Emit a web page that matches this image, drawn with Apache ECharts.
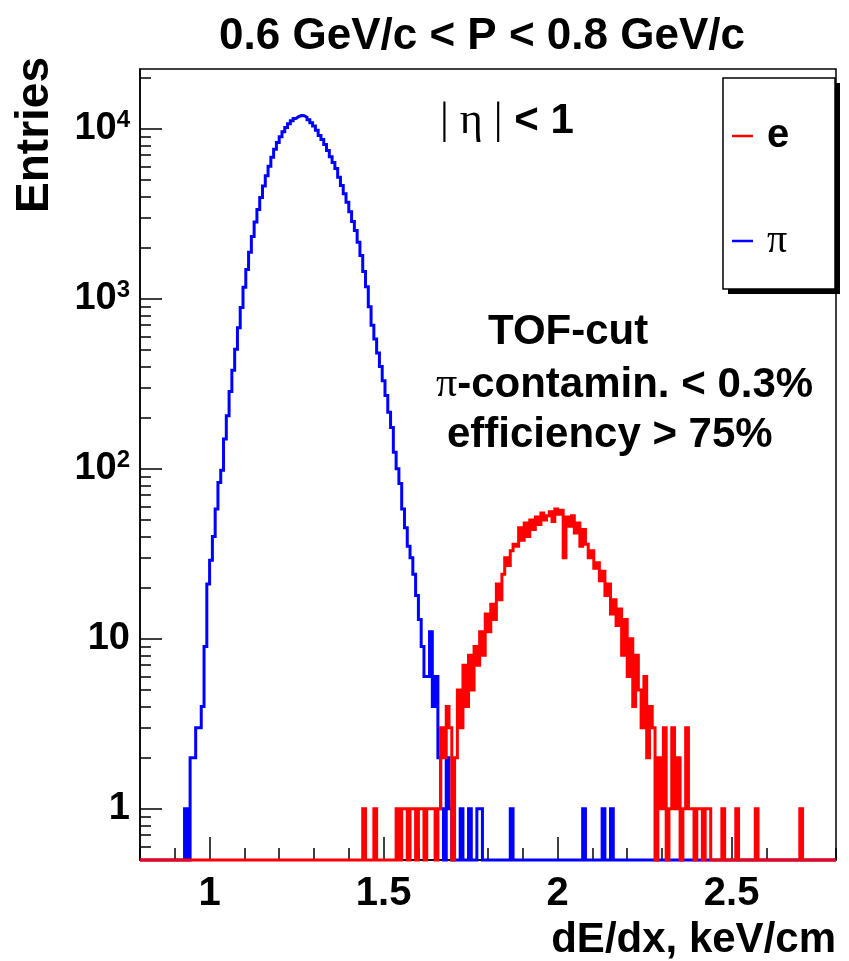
<!DOCTYPE html>
<html><head><meta charset="utf-8">
<script src="https://cdn.jsdelivr.net/npm/echarts@6/dist/echarts.min.js"></script>
<style>html,body{margin:0;padding:0;background:#fff}#c{width:849px;height:961px}</style>
</head><body><div id="c"></div>
<script>
// ---- data (histograms, bin width 0.008 in dE/dx) ----
const binWidth = 0.008;
const xMin = 0.8, xMax = 2.8;
const yMin = 0.5, yMax = 22500;

// pion counts, first bin low edge = 0.928
const piFirstEdge = 0.928;
const piCounts = [
  1,0,2,2,3,3,4,9,21,29,                              // 0.928
  40,58,83,98,150,205,285,380,505,675,                // 1.008
  890,1170,1490,1880,2330,2830,3350,3950,4620,5300,   // 1.088
  6020,6800,7580,8300,9000,9620,10200,10700,11150,11500, // 1.168
  11800,11980,11950,11700,11300,10850,10400,9800,9150,8650, // 1.248
  8100,7450,6850,6350,5850,5200,4650,4150,3700,3250,  // 1.328
  2850,2520,2150,1800,1450,1180,900,700,580,480,      // 1.408
  400,330,270,215,175,125,100,82,58,45,               // 1.488
  35,30,24,18,13,9,6,6,11,4,                          // 1.568
  6,2,1,0,2,1,0,0,0,1,                                // 1.648
  0,0,1,0,0,1,1,0,0,0,                                // 1.728
  0,0,0,0,0,0,0,1,0,0,                                // 1.808
  0,0,0,0,0,0,0,0,0,0,                                // 1.888
  0,0,0,0,0,0,0,0,0,0,                                // 1.968
  0,0,0,1,0,0,0,0,0,0,                                // 2.048
  1,0,0,1                                             // 2.128
];

// electron counts, first bin low edge = 1.440
const eFirstEdge = 1.440;
const eCounts = [
  1,0,0,0,1,0,0,0,0,0,          // 1.440
  0,0,1,0,1,1,0,1,1,0,          // 1.520
  1,1,0,1,1,1,0,1,3,2,          // 1.600
  4,3,0,2,5,3,7,4,8,5,          // 1.680
  9,7,11,8,14,11,16,13,21,17,   // 1.760
  24,30,27,33,36,35,45,38,48,40,// 1.840
  50,44,52,47,55,50,53,56,49,58,// 1.920
  54,57,30,52,46,53,42,48,35,44,// 2.000
  36,30,33,26,28,22,25,18,21,14,// 2.080
  17,12,15,8,13,6,10,4,8,5,     // 2.160
  3,6,2,4,3,0,2,1,3,0,          // 2.240
  1,3,1,2,0,1,3,1,1,0,          // 2.320
  1,1,0,1,1,0,0,0,0,1,          // 2.400
  0,0,0,0,1,0,0,0,0,0,          // 2.480
  0,1,0,0,0,0,0,0,0,0,          // 2.560
  0,0,0,0,0,0,0,1               // 2.640
];

const xMajorTicks = [1, 1.5, 2, 2.5];
const yMajorTicks = [1, 10, 100, 1000, 10000];
const yMinorTicks = [0.6,0.7,0.8,0.9, 2,3,4,5,6,7,8,9, 20,30,40,50,60,70,80,90,
  200,300,400,500,600,700,800,900, 2000,3000,4000,5000,6000,7000,8000,9000, 20000];

const seriesNames = ['e', 'π'];

// ---- build step-histogram points (bin low edges, zero bins drawn at axis floor) ----
function histData(firstEdge, counts) {
  const nBins = Math.round((xMax - xMin) / binWidth);
  const offset = Math.round((firstEdge - xMin) / binWidth);
  const pts = [];
  for (let i = 0; i < nBins; i++) {
    const k = i - offset;
    const c = (k >= 0 && k < counts.length) ? counts[k] : 0;
    pts.push([+(xMin + i * binWidth).toFixed(4), c > 0 ? c : yMin]);
  }
  pts.push([xMax, pts[pts.length - 1][1]]);
  return pts;
}

const FONT = 'Liberation Sans';
const SERIF = 'Liberation Serif';
const tickStyle = { color: '#000', width: 1.5 };

const chart = echarts.init(document.getElementById('c'), null, { renderer: 'canvas' });
chart.setOption({
  animation: false,
  backgroundColor: '#fff',
  title: {
    text: '0.6 GeV/c < P < 0.8 GeV/c',
    left: 477, top: 10, textAlign: 'center',
    textStyle: { fontFamily: FONT, fontWeight: 'bold', fontSize: 44, color: '#000', lineHeight: 44 }
  },
  grid: { left: 140, right: 13, top: 69, bottom: 101, show: true, borderColor: '#000', borderWidth: 1.5, backgroundColor: 'transparent' },
  legend: {
    orient: 'vertical', left: 727, top: 111, itemWidth: 21, itemHeight: 2.5, itemGap: 65,
    icon: 'rect', selectedMode: false, data: seriesNames, z: 10,
    formatter: n => n === 'e' ? '{b|e}' : '{p|π}',
    textStyle: {
      rich: {
        b: { fontFamily: FONT, fontWeight: 'bold', fontSize: 40, color: '#000', lineHeight: 40, padding: [0, 0, 0, 9] },
        p: { fontFamily: SERIF, fontSize: 40, color: '#000', lineHeight: 40, padding: [0, 0, 0, 9] }
      }
    }
  },
  xAxis: [
    {
      type: 'value', min: xMin, max: xMax, position: 'bottom',
      axisLine: { show: true, onZero: false, lineStyle: tickStyle },
      axisTick: { show: true, inside: true, length: 23, customValues: xMajorTicks, lineStyle: tickStyle },
      axisLabel: { customValues: xMajorTicks, margin: 14, fontFamily: FONT, fontWeight: 'bold', fontSize: 40, color: '#000', formatter: v => String(v) },
      splitLine: { show: false }
    },
    {
      type: 'value', min: xMin, max: xMax, interval: 0.1, position: 'bottom',
      axisLine: { show: false },
      axisTick: { show: true, inside: true, length: 12, lineStyle: tickStyle },
      axisLabel: { show: false }, splitLine: { show: false }
    }
  ],
  yAxis: [
    {
      type: 'log', logBase: 10, min: yMin, max: yMax, position: 'left',
      axisLine: { show: true, onZero: false, lineStyle: tickStyle },
      axisTick: { show: true, inside: true, length: 22, customValues: yMajorTicks, lineStyle: tickStyle },
      axisLabel: {
        customValues: yMajorTicks, margin: 10,
        formatter: v => { const e = Math.round(Math.log10(v)); return e <= 1 ? '{n|' + Math.round(v) + '}' : '{n|10}{s|' + e + '}'; },
        rich: {
          n: { fontFamily: FONT, fontWeight: 'bold', fontSize: 38, color: '#000', lineHeight: 40 },
          s: { fontFamily: FONT, fontWeight: 'bold', fontSize: 24, color: '#000', lineHeight: 24, verticalAlign: 'top' }
        }
      },
      splitLine: { show: false }
    },
    {
      type: 'log', logBase: 10, min: yMin, max: yMax, position: 'left',
      axisLine: { show: false },
      axisTick: { show: true, inside: true, length: 11, customValues: yMinorTicks, lineStyle: tickStyle },
      axisLabel: { show: false }, splitLine: { show: false }
    }
  ],
  series: [
    {
      name: 'π', type: 'line', step: 'end', data: histData(piFirstEdge, piCounts),
      symbol: 'none', showSymbol: false, clip: false, z: 3,
      lineStyle: { color: '#0000ff', width: 3, join: 'miter' }, itemStyle: { color: '#0000ff' }
    },
    {
      name: 'e', type: 'line', step: 'end', data: histData(eFirstEdge, eCounts),
      symbol: 'none', showSymbol: false, clip: false, z: 4,
      lineStyle: { color: '#ff0000', width: 3, join: 'miter' }, itemStyle: { color: '#ff0000' }
    }
  ],
  graphic: [
    { type: 'rect', z: 5, shape: { x: 728, y: 83, width: 112, height: 211 }, style: { fill: '#000' } },
    { type: 'rect', z: 6, shape: { x: 723, y: 78, width: 112, height: 211 }, style: { fill: '#fff', stroke: '#000', lineWidth: 1.5 } },
    { type: 'text', z: 6, x: 440, y: 121, style: {
        text: '{s|| η |}{b| < 1}', verticalAlign: 'middle',
        rich: {
          s: { fontFamily: SERIF, fontSize: 44, fill: '#000' },
          b: { fontFamily: FONT, fontWeight: 'bold', fontSize: 42, fill: '#000' }
        } } },
    { type: 'text', z: 6, x: 488, y: 332, style: { text: 'TOF-cut', fontFamily: FONT, fontWeight: 'bold', fontSize: 42, fill: '#000', verticalAlign: 'middle' } },
    { type: 'text', z: 6, x: 436, y: 385, style: {
        text: '{p|π}{b|-contamin. < 0.3%}', verticalAlign: 'middle',
        rich: {
          p: { fontFamily: SERIF, fontSize: 42, fill: '#000' },
          b: { fontFamily: FONT, fontWeight: 'bold', fontSize: 42, fill: '#000' }
        } } },
    { type: 'text', z: 6, x: 447, y: 435, style: { text: 'efficiency > 75%', fontFamily: FONT, fontWeight: 'bold', fontSize: 42, fill: '#000', verticalAlign: 'middle' } },
    { type: 'text', z: 6, x: 35, y: 135, rotation: Math.PI / 2, style: { text: 'Entries', fontFamily: FONT, fontWeight: 'bold', fontSize: 46, fill: '#000', align: 'center', verticalAlign: 'middle' } },
    { type: 'text', z: 6, x: 836, y: 940, style: { text: 'dE/dx, keV/cm', fontFamily: FONT, fontWeight: 'bold', fontSize: 42, fill: '#000', align: 'right', verticalAlign: 'middle' } }
  ]
});
</script>
</body></html>
